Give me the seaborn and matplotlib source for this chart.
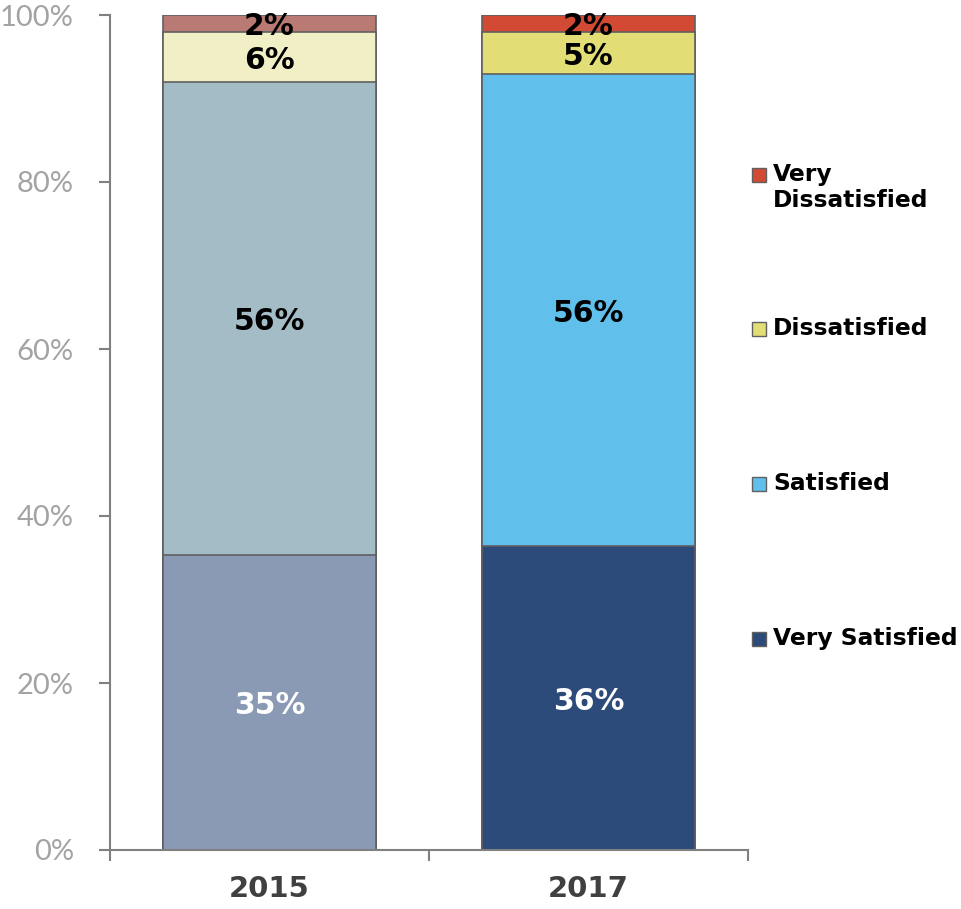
import matplotlib
matplotlib.use("Agg")
import matplotlib.pyplot as plt
from matplotlib.patches import Rectangle
from matplotlib.ticker import FixedLocator, NullFormatter
import seaborn as sns
import pandas as pd
import numpy as np

# Survey results (percent of respondents)
years = ["2015", "2017"]
levels = ["Very Satisfied", "Satisfied", "Dissatisfied", "Very Dissatisfied"]
values_2015 = [35, 56, 6, 2]
values_2017 = [36, 56, 5, 2]
y_ticks = [0, 20, 40, 60, 80, 100]

colors_2015 = ["#8A9AB4", "#A3BCC6", "#F1EFC5", "#B87A72"]
colors_2017 = ["#2C4A7A", "#60BFEB", "#E2DD75", "#D34A34"]
label_colors = ["white", "black", "black", "black"]

sns.set_theme(style="white")
plt.rcParams["font.family"] = ["DejaVu Sans"]

fig = plt.figure(figsize=(9.61, 9.09), dpi=100)
ax = fig.add_axes([110 / 961, 1 - 850 / 909, 638 / 961, 835 / 909])

# 100% stacked: normalise each year's shares so the stack fills the axis
raw = {"2015": np.array(values_2015, float), "2017": np.array(values_2017, float)}
norm = {y: v / v.sum() * 100 for y, v in raw.items()}
cum = {y: np.cumsum(v) for y, v in norm.items()}

# Draw from the top layer downwards so each cumulative bar overlays the previous
for i in reversed(range(len(levels))):
    df = pd.DataFrame({"year": years, "cum": [cum[y][i] for y in years]})
    sns.barplot(data=df, x="year", y="cum", hue="year",
                palette={"2015": colors_2015[i], "2017": colors_2017[i]},
                order=years, hue_order=years, dodge=False, legend=False,
                width=0.667, edgecolor="#606060", linewidth=1.2,
                saturation=1, ax=ax)

# Segment labels
for xi, y in enumerate(years):
    vals = raw[y]
    bottoms = cum[y] - norm[y]
    for i, v in enumerate(vals):
        ax.text(xi, bottoms[i] + norm[y][i] / 2 - 0.4, f"{int(v)}%",
                ha="center", va="center", fontsize=21.5, fontweight="bold",
                color=label_colors[i])

ax.set_ylim(0, 100)
ax.set_xlim(-0.5, 1.5)
ax.set_xlabel("")
ax.set_ylabel("")
ax.set_yticks(y_ticks)
ax.set_yticklabels([f"{t}%" for t in y_ticks], fontsize=21, color="#a3a3a3",
                   family=["Lato", "DejaVu Sans"])

# Category separators as major ticks, year labels as minor ticks
ax.xaxis.set_major_locator(FixedLocator([-0.5, 0.5, 1.5]))
ax.xaxis.set_major_formatter(NullFormatter())
ax.xaxis.set_minor_locator(FixedLocator([0, 1]))
ax.set_xticklabels(years, minor=True, fontsize=21, fontweight="bold", color="#404040")
ax.tick_params(axis="x", which="major", direction="out", length=8, width=1.5,
               color="#808080", bottom=True)
ax.tick_params(axis="x", which="minor", length=0, pad=18)
ax.tick_params(axis="y", direction="out", length=8, width=1.5, color="#808080",
               left=True, pad=18)

for side in ["top", "right"]:
    ax.spines[side].set_visible(False)
for side in ["left", "bottom"]:
    ax.spines[side].set_color("#808080")
    ax.spines[side].set_linewidth(1.5)
ax.grid(False)

# Legend on the right, using the 2017 palette
legend_items = [
    ("Very\nDissatisfied", colors_2017[3], 175),
    ("Dissatisfied", colors_2017[2], 329),
    ("Satisfied", colors_2017[1], 484),
    ("Very Satisfied", colors_2017[0], 639),
]
for text, col, ypx in legend_items:
    fig.patches.append(Rectangle((752 / 961, 1 - (ypx + 7) / 909), 14 / 961, 14 / 909,
                                 transform=fig.transFigure, facecolor=col,
                                 edgecolor="#606060", linewidth=1))
    fig.text(773 / 961, 1 - (ypx - 12) / 909, text, ha="left", va="top",
             fontsize=16.8, fontweight="bold", color="black", linespacing=1.15)

fig.savefig("out.png", dpi=100)
